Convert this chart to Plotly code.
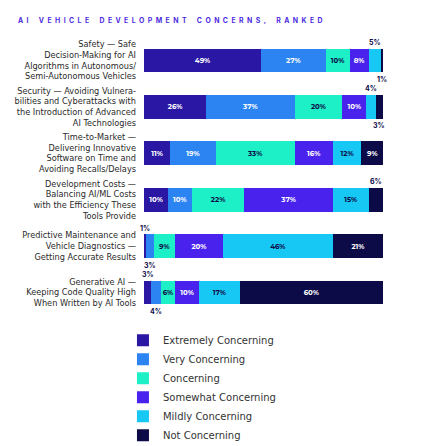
import plotly.graph_objects as go

categories = [
    "Safety — Safe<br>Decision-Making for AI<br>Algorithms in Autonomous/<br>Semi-Autonomous Vehicles",
    "Security — Avoiding Vulnera-<br>bilities and Cyberattacks with<br>the Introduction of Advanced<br>AI Technologies",
    "Time-to-Market —<br>Delivering Innovative<br>Software on Time and<br>Avoiding Recalls/Delays",
    "Development Costs —<br>Balancing AI/ML Costs<br>with the Efficiency These<br>Tools Provide",
    "Predictive Maintenance and<br>Vehicle Diagnostics —<br>Getting Accurate Results",
    "Generative AI —<br>Keeping Code Quality High<br>When Written by AI Tools",
]

series_names = ["Extremely Concerning", "Very Concerning", "Concerning",
                "Somewhat Concerning", "Mildly Concerning", "Not Concerning"]

extremely = [49, 26, 11, 10, 1, 3]
very = [27, 37, 19, 10, 3, 4]
concerning = [10, 20, 33, 22, 9, 6]
somewhat = [8, 10, 16, 37, 20, 10]
mildly = [5, 4, 12, 15, 46, 17]
not_conc = [1, 3, 9, 6, 21, 60]

# where each value label sits: in = inside bar, up / down = outside the bar
label_pos = {
    "Extremely Concerning": ["in", "in", "in", "in", "up", "up"],
    "Very Concerning":      ["in", "in", "in", "in", "down", "down"],
    "Concerning":           ["in", "in", "in", "in", "in", "in"],
    "Somewhat Concerning":  ["in", "in", "in", "in", "in", "in"],
    "Mildly Concerning":    ["up", "up", "in", "in", "in", "in"],
    "Not Concerning":       ["down", "down", "in", "up", "in", "in"],
}

colors = ["#2a17a4", "#2c84f3", "#1df0c6", "#4a22ee", "#17c8f4", "#0c0b48"]
text_colors = ["white", "white", "#0c0b48", "white", "#0c0b48", "white"]

values = [extremely, very, concerning, somewhat, mildly, not_conc]

fig = go.Figure()
annotations = []
base = [0] * len(categories)
for name, vals, col, tcol in zip(series_names, values, colors, text_colors):
    pos = label_pos[name]
    txt = [f"{v}%" if p == "in" else "" for v, p in zip(vals, pos)]
    fig.add_trace(go.Bar(
        y=categories, x=vals, name=name, orientation="h",
        marker=dict(color=col, line=dict(width=0)),
        text=txt, textposition="inside", insidetextanchor="middle", textangle=0,
        textfont=dict(family="Montserrat, Inter, sans-serif", size=7, color=tcol, weight="bold"),
        hoverinfo="skip",
    ))
    for i, (v, p) in enumerate(zip(vals, pos)):
        if p != "in":
            annotations.append(dict(
                x=base[i] + v / 2, y=categories[i], xref="x", yref="y",
                text=f"{v}%", showarrow=False,
                yshift=18 if p == "up" else -19,
                font=dict(family="Inter, sans-serif", size=7, color="#0c0b48", weight="bold"),
            ))
        base[i] += v

# page body adds an 8px offset, so the figure is drawn 8px smaller
title = "AI VEHICLE DEVELOPMENT CONCERNS, RANKED"
spaced = "\u2002".join(c if c != " " else "\u2002" for c in title)
annotations.append(dict(
    x=(8 - 136) / 239, y=1 + (27 - 12) / 282.5, xref="paper", yref="paper",
    text=spaced, showarrow=False,
    font=dict(family="Inter, sans-serif", size=6.9, color="#4b2be0", weight="bold"),
    xanchor="left", yanchor="middle",
))

fig.update_layout(
    width=417, height=438,
    margin=dict(l=136, r=42, t=27, b=128.5, autoexpand=False),
    paper_bgcolor="white", plot_bgcolor="white",
    barmode="stack", bargap=0.49,
    uniformtext=dict(minsize=7, mode="show"),
    xaxis=dict(range=[0, 100], visible=False, fixedrange=True),
    yaxis=dict(autorange="reversed", showgrid=False, zeroline=False, ticks="",
               ticklabelstandoff=7,
               tickfont=dict(family="DejaVu Sans, sans-serif", size=8.2, color="#2a2a2a")),
    showlegend=True,
    legend=dict(x=-0.088, y=-0.031, xanchor="left", yanchor="top",
                font=dict(family="DejaVu Sans, sans-serif", size=10, color="#333333"),
                traceorder="normal", bgcolor="rgba(0,0,0,0)"),
    annotations=annotations,
)

fig.write_html("out.html")
